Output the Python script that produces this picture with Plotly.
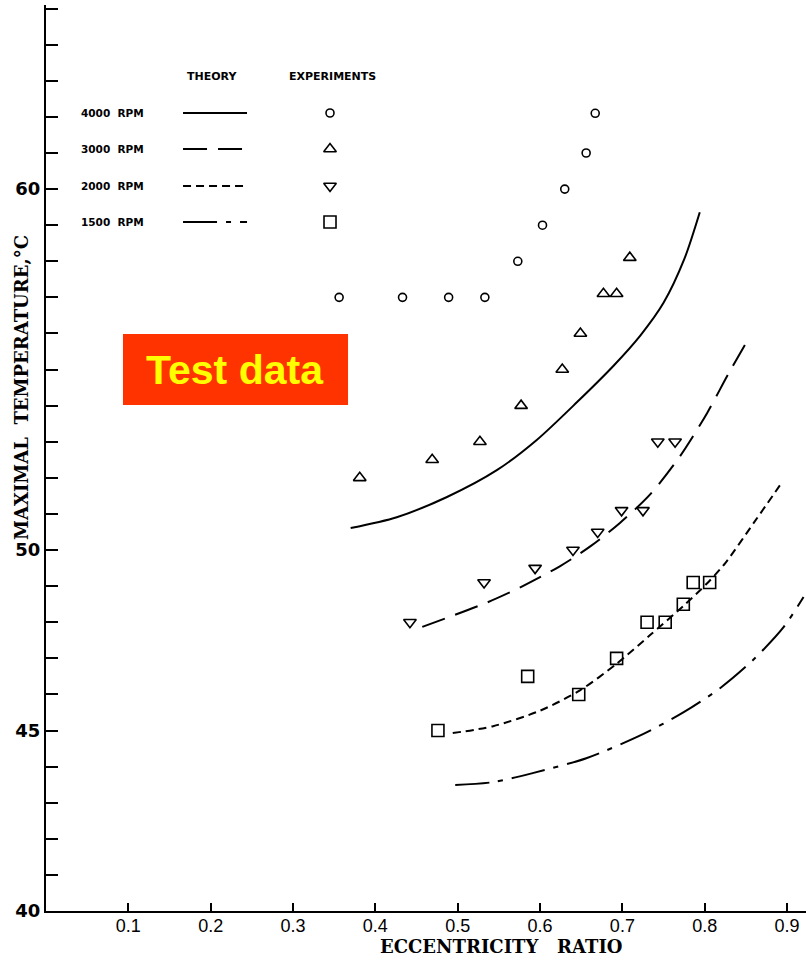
import plotly.graph_objects as go

# ---------------- data ----------------
# Theory curves (eccentricity ratio, max temperature)
theory_4000_x = [0.370, 0.426, 0.487, 0.548, 0.596, 0.645, 0.689, 0.722, 0.750, 0.775, 0.794]
theory_4000_y = [50.61, 50.91, 51.47, 52.22, 53.05, 54.10, 55.10, 55.95, 56.85, 58.05, 59.36]

theory_3000_x = [0.457, 0.536, 0.579, 0.624, 0.661, 0.697, 0.734, 0.770, 0.803, 0.828, 0.855]
theory_3000_y = [47.87, 48.55, 49.00, 49.55, 50.10, 50.75, 51.55, 52.60, 53.80, 54.85, 55.93]

theory_2000_x = [0.494, 0.543, 0.600, 0.649, 0.693, 0.734, 0.774, 0.803, 0.825, 0.861, 0.894]
theory_2000_y = [44.93, 45.12, 45.55, 46.12, 46.85, 47.65, 48.45, 49.08, 49.64, 50.80, 51.88]

theory_1500_x = [0.497, 0.543, 0.591, 0.657, 0.725, 0.774, 0.819, 0.859, 0.896, 0.920]
theory_1500_y = [43.49, 43.57, 43.82, 44.24, 44.90, 45.50, 46.18, 46.96, 47.87, 48.70]

# Experiments
exp_4000_x = [0.356, 0.433, 0.489, 0.533, 0.573, 0.603, 0.630, 0.656, 0.667]
exp_4000_y = [57.0, 57.0, 57.0, 57.0, 58.0, 59.0, 60.0, 61.0, 62.1]

exp_3000_x = [0.381, 0.469, 0.527, 0.577, 0.627, 0.649, 0.677, 0.693, 0.709]
exp_3000_y = [52.0, 52.5, 53.0, 54.0, 55.0, 56.0, 57.1, 57.1, 58.1]

exp_2000_x = [0.442, 0.532, 0.594, 0.640, 0.670, 0.699, 0.725, 0.743, 0.764]
exp_2000_y = [48.0, 49.1, 49.5, 50.0, 50.5, 51.1, 51.1, 53.0, 53.0]

exp_1500_x = [0.476, 0.585, 0.647, 0.693, 0.730, 0.752, 0.774, 0.786, 0.806]
exp_1500_y = [45.0, 46.5, 46.0, 47.0, 48.0, 48.0, 48.5, 49.1, 49.1]

speed_labels = ["4000 RPM", "3000 RPM", "2000 RPM", "1500 RPM"]
x_tick_vals = [0.1, 0.2, 0.3, 0.4, 0.5, 0.6, 0.7, 0.8, 0.9]
x_tick_text = ["0.1", "0.2", "0.3", "0.4", "0.5", "0.6", "0.7", "0.8", "0.9"]
y_tick_vals = list(range(40, 66))
y_labeled = {40: "40", 45: "45", 50: "50", 60: "60"}
y_tick_text = [y_labeled.get(v, "") for v in y_tick_vals]

# ---------------- styles ----------------
dashes = ["solid", "24px,11px", "8px,5px", "34px,9px,5px,9px"]
symbols = ["circle-open", "triangle-up-open", "triangle-down-open", "square-open"]
msizes = [8, 11, 11, 12]

fig = go.Figure()

theories = [(theory_4000_x, theory_4000_y), (theory_3000_x, theory_3000_y),
            (theory_2000_x, theory_2000_y), (theory_1500_x, theory_1500_y)]
exps = [(exp_4000_x, exp_4000_y), (exp_3000_x, exp_3000_y),
        (exp_2000_x, exp_2000_y), (exp_1500_x, exp_1500_y)]

for i, (tx, ty) in enumerate(theories):
    fig.add_trace(go.Scatter(x=tx, y=ty, mode="lines",
                             line=dict(color="black", width=2, dash=dashes[i],
                                       shape="spline", smoothing=0.8),
                             showlegend=False, hoverinfo="skip"))
for i, (ex, ey) in enumerate(exps):
    fig.add_trace(go.Scatter(x=ex, y=ey, mode="markers",
                             marker=dict(symbol=symbols[i], size=msizes[i], color="black",
                                         line=dict(color="black", width=1.6)),
                             showlegend=False, hoverinfo="skip"))

# ---------------- custom legend (in an overlay axis spanning the plot area) ----------------
leg_rows_y = [0.8808, 0.8411, 0.8002, 0.7605]
leg_line_x = [0.1803, 0.2645]
leg_marker_x = 0.3737
for i, ry in enumerate(leg_rows_y):
    fig.add_trace(go.Scatter(x=leg_line_x, y=[ry, ry], mode="lines",
                             line=dict(color="black", width=2, dash=dashes[i]),
                             xaxis="x2", yaxis="y2", showlegend=False, hoverinfo="skip"))
    fig.add_trace(go.Scatter(x=[leg_marker_x], y=[ry], mode="markers",
                             marker=dict(symbol=symbols[i], size=msizes[i], color="black",
                                         line=dict(color="black", width=1.6)),
                             xaxis="x2", yaxis="y2", showlegend=False, hoverinfo="skip"))

annotations = []
head_font = dict(family="DejaVu Sans", size=11, color="black", weight="bold")
leg_font = dict(family="DejaVu Sans", size=10.5, color="black", weight="bold")
annotations.append(dict(text="THEORY", x=0.2184, y=0.9216, xref="paper", yref="paper",
                        xanchor="center", yanchor="middle", showarrow=False, font=head_font))
annotations.append(dict(text="EXPERIMENTS", x=0.3776, y=0.9216, xref="paper", yref="paper",
                        xanchor="center", yanchor="middle", showarrow=False, font=head_font))
for i, ry in enumerate(leg_rows_y):
    annotations.append(dict(text=speed_labels[i].replace(" ", "  "), x=0.0434, y=ry,
                            xref="paper", yref="paper", xanchor="left", yanchor="middle",
                            showarrow=False, font=leg_font))

# Axis titles
annotations.append(dict(text="MAXIMAL  TEMPERATURE,°C", x=-0.0316, y=0.5784,
                        xref="paper", yref="paper", xanchor="center", yanchor="middle",
                        textangle=-90, showarrow=False,
                        font=dict(family="DejaVu Serif", size=18, color="black", weight="bold")))
annotations.append(dict(text="ECCENTRICITY   RATIO", x=0.5987, y=-0.0397,
                        xref="paper", yref="paper", xanchor="center", yanchor="middle",
                        showarrow=False,
                        font=dict(family="DejaVu Serif", size=18, color="black", weight="bold")))

# Test data label
annotations.append(dict(text="Test data", x=0.2493, y=0.5971, xref="paper", yref="paper",
                        xanchor="center", yanchor="middle", showarrow=False,
                        font=dict(family="Liberation Sans", size=41, color="#FFFF00", weight="bold")))

shapes = [dict(type="rect", xref="paper", yref="paper", x0=0.1013, x1=0.3974,
               y0=0.5585, y1=0.6369, fillcolor="#FF3300", line=dict(width=0), layer="below")]

fig.update_layout(
    width=806, height=961,
    margin=dict(l=46, r=0, t=5, b=50),
    paper_bgcolor="white", plot_bgcolor="white",
    showlegend=False,
    annotations=annotations,
    shapes=shapes,
    xaxis=dict(range=[0, 0.923], showgrid=False, zeroline=False, automargin=False,
               showline=True, linecolor="black", linewidth=2,
               tickmode="array", tickvals=x_tick_vals, ticktext=x_tick_text,
               ticks="inside", ticklen=8, tickwidth=2, tickcolor="black",
               ticklabelstandoff=-3,
               tickfont=dict(family="Liberation Sans", size=18, color="black")),
    yaxis=dict(range=[40, 65.1], showgrid=False, zeroline=False, automargin=False,
               showline=True, linecolor="black", linewidth=2,
               tickmode="array", tickvals=y_tick_vals, ticktext=y_tick_text,
               ticks="inside", ticklen=12, tickwidth=1.5, tickcolor="black",
               tickfont=dict(family="DejaVu Sans", size=18, color="black", weight="bold")),
    xaxis2=dict(range=[0, 1], overlaying="x", visible=False, fixedrange=True),
    yaxis2=dict(range=[0, 1], overlaying="y", visible=False, fixedrange=True),
)

fig.write_html("out.html", config={"displayModeBar": False},
               post_script="document.body.style.margin='0';document.body.style.overflow='hidden';")
